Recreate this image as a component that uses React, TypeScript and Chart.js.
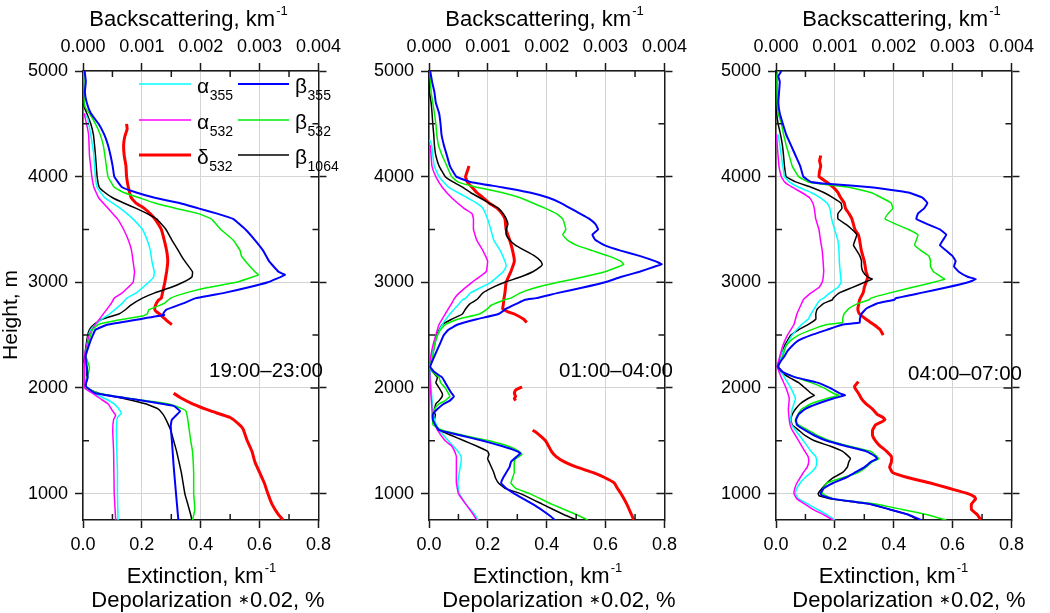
import React, { useEffect, useRef } from "react";
import { Chart, registerables } from "chart.js";

Chart.register(...registerables);

type Pt = [number, number | null];

// Units: alpha (extinction) km^-1 ; beta (backscattering) 10^-3 km^-1 ; delta (depolarization) %
// ---------------- Panel 1 : 19:00–23:00 ----------------
const P1_ALPHA355: Pt[] = [[4600,0.004],[4550,0.016],[4400,0.026],[4300,0.032],[4200,0.037],[4000,0.042],[3900,0.048],[3800,0.074],[3750,0.101],[3700,0.127],[3600,0.17],[3500,0.202],[3400,0.218],[3300,0.229],[3200,0.234],[3100,0.242],[3050,0.24],[3000,0.223],[2900,0.181],[2850,0.149],[2800,0.133],[2700,0.09],[2650,0.064],[2600,0.042],[2550,0.026],[2500,0.019],[2400,0.013],[2300,0.006],[2200,0.009],[2000,0.006],[1950,0.037],[1900,0.074],[1850,0.106],[1800,0.122],[1760,0.13],[1720,0.117],[1650,0.114],[1500,0.114],[1200,0.117],[1000,0.117],[750,0.119]];
const P1_ALPHA532: Pt[] = [[4600,0.003],[4550,0.008],[4400,0.019],[4200,0.022],[4100,0.026],[4000,0.03],[3900,0.037],[3800,0.053],[3700,0.085],[3600,0.117],[3500,0.138],[3400,0.154],[3300,0.165],[3200,0.17],[3100,0.175],[3000,0.17],[2900,0.133],[2850,0.106],[2800,0.096],[2700,0.069],[2600,0.042],[2500,0.021],[2400,0.013],[2300,0.005],[2000,0.005],[1950,0.032],[1900,0.058],[1850,0.085],[1780,0.101],[1740,0.111],[1700,0.104],[1600,0.101],[1400,0.104],[1000,0.106],[750,0.111]];
const P1_DELTA532: Pt[] = [[4500,7.4],[4450,7.5],[4380,7.1],[4300,6.9],[4200,7.0],[4100,7.3],[4000,7.4],[3900,7.7],[3800,8.2],[3750,9.0],[3700,10.4],[3650,11.4],[3600,12.2],[3500,13.3],[3400,13.8],[3300,14.2],[3200,14.4],[3100,14.2],[3000,13.9],[2900,13.5],[2850,13.3],[2830,12.8],[2780,12.3],[2740,12.2],[2720,12.5],[2700,13.0],[2660,13.8],[2620,14.6],[2600,15.1],[2300,null],[1950,15.4],[1910,16.5],[1850,18.6],[1780,21.8],[1720,25.0],[1650,26.6],[1610,27.2],[1500,27.9],[1400,28.7],[1300,29.2],[1200,30.0],[1100,30.8],[1000,31.4],[900,32.1],[800,33.2],[750,34.0]];
const P1_BETA355: Pt[] = [[5000,0.028],[4900,0.048],[4800,0.032],[4700,0.064],[4600,0.132],[4500,0.264],[4400,0.36],[4300,0.424],[4200,0.468],[4100,0.504],[4000,0.532],[3900,0.664],[3850,0.904],[3800,1.22],[3750,1.64],[3700,1.96],[3650,2.28],[3600,2.55],[3500,2.76],[3400,2.92],[3300,3.06],[3200,3.16],[3100,3.32],[3070,3.43],[3000,3.14],[2950,2.8],[2900,2.4],[2850,1.92],[2800,1.7],[2740,1.41],[2700,1.36],[2690,1.38],[2646,0.9],[2600,0.42],[2550,0.21],[2490,0.16],[2420,0.11],[2300,0.044],[2200,0.064],[2100,0.08],[2020,0.044],[1950,0.21],[1890,0.9],[1830,1.54],[1780,1.65],[1700,1.51],[1640,1.49],[1500,1.51],[1260,1.54],[1000,1.58],[750,1.62]];
const P1_BETA532: Pt[] = [[5000,0.012],[4700,0.02],[4650,0.044],[4600,0.108],[4500,0.212],[4400,0.292],[4300,0.344],[4200,0.372],[4000,0.424],[3900,0.532],[3850,0.692],[3800,0.956],[3750,1.22],[3700,1.57],[3650,1.96],[3600,2.18],[3500,2.34],[3400,2.55],[3300,2.67],[3250,2.69],[3200,2.76],[3100,2.92],[3070,2.98],[3000,2.6],[2950,2.12],[2900,1.75],[2850,1.49],[2800,1.38],[2740,1.12],[2700,1.09],[2680,1.01],[2640,0.58],[2600,0.26],[2550,0.16],[2500,0.13],[2400,0.08],[2300,0.052],[2200,0.108],[2150,0.096],[2100,0.064],[2030,0.044],[2000,0.064],[1950,0.26],[1900,0.8],[1850,1.44],[1800,1.7],[1780,1.75],[1700,1.78],[1500,1.83],[1400,1.86],[1200,1.88],[1000,1.88],[850,1.9],[750,1.86]];
const P1_BETA1064: Pt[] = [[5000,0.008],[4700,0.012],[4650,0.028],[4600,0.064],[4500,0.132],[4400,0.176],[4300,0.196],[4200,0.212],[4000,0.24],[3900,0.276],[3850,0.372],[3800,0.504],[3750,0.692],[3700,0.904],[3650,1.09],[3600,1.25],[3500,1.41],[3400,1.51],[3300,1.62],[3250,1.67],[3200,1.73],[3100,1.86],[3050,1.85],[3000,1.7],[2950,1.49],[2900,1.22],[2850,1.01],[2780,0.8],[2740,0.72],[2700,0.61],[2650,0.32],[2600,0.184],[2550,0.108],[2500,0.08],[2400,0.052],[2300,0.028],[2250,0.016],[2200,0.064],[2100,0.064],[2000,0.052],[1950,0.26],[1900,0.69],[1850,1.06],[1800,1.28],[1750,1.36],[1700,1.41],[1600,1.49],[1500,1.54],[1400,1.59],[1200,1.67],[1000,1.73],[900,1.78],[800,1.83],[750,1.85]];

// ---------------- Panel 2 : 01:00–04:00 ----------------
const P2_ALPHA355: Pt[] = [[4350,0.002],[4300,0.009],[4200,0.013],[4100,0.018],[4000,0.034],[3900,0.066],[3800,0.13],[3750,0.162],[3700,0.183],[3600,0.199],[3500,0.21],[3400,0.22],[3300,0.242],[3200,0.258],[3150,0.262],[3100,0.252],[3000,0.21],[2900,0.141],[2850,0.125],[2835,0.114],[2800,0.103],[2700,0.071],[2600,0.045],[2500,0.029],[2400,0.018],[2300,0.01],[2200,0.004],[2000,0.007],[1800,0.013],[1700,0.018],[1600,0.034],[1500,0.066],[1450,0.082],[1400,0.098],[1350,0.109],[1300,0.109],[1200,0.103],[1100,0.098],[1000,0.103],[900,0.125],[800,0.156],[750,0.167]];
const P2_ALPHA532: Pt[] = [[4300,0.004],[4200,0.007],[4100,0.01],[4000,0.023],[3900,0.045],[3800,0.077],[3700,0.119],[3650,0.146],[3600,0.151],[3500,0.151],[3400,0.162],[3300,0.183],[3200,0.199],[3100,0.194],[3000,0.146],[2900,0.103],[2850,0.087],[2800,0.077],[2700,0.055],[2600,0.034],[2500,0.023],[2400,0.013],[2300,0.006],[2200,0.002],[2000,0.005],[1800,0.01],[1700,0.013],[1600,0.029],[1500,0.055],[1450,0.077],[1400,0.087],[1350,0.093],[1300,0.093],[1200,0.093],[1100,0.093],[1000,0.1],[900,0.125],[800,0.151],[750,0.162]];
const P2_DELTA532: Pt[] = [[4100,6.8],[4050,6.5],[4000,6.2],[3950,6.5],[3900,7.3],[3850,8.1],[3800,9.2],[3750,10.2],[3700,11.6],[3650,12.4],[3600,12.9],[3500,13.1],[3400,13.7],[3300,14.2],[3200,14.5],[3100,13.9],[3000,13.1],[2900,12.9],[2835,12.7],[2780,12.6],[2750,12.5],[2720,13.4],[2700,14.5],[2650,16.1],[2620,16.6],[2300,null],[2010,15.8],[1980,14.7],[1950,14.5],[1920,14.7],[1900,14.5],[1880,14.7],[1750,null],[1600,17.6],[1580,18.2],[1500,19.8],[1400,20.8],[1350,21.6],[1300,23.0],[1250,25.1],[1200,27.8],[1150,29.9],[1100,31.5],[1050,32.0],[1000,32.6],[900,33.6],[800,34.4],[750,34.8]];
const P2_BETA355: Pt[] = [[5000,0.02],[4900,0.052],[4800,0.092],[4700,0.116],[4600,0.172],[4500,0.196],[4400,0.212],[4300,0.252],[4200,0.304],[4100,0.356],[4000,0.464],[3950,0.704],[3900,1.236],[3850,1.712],[3800,2.032],[3750,2.244],[3700,2.404],[3650,2.564],[3600,2.724],[3550,2.828],[3500,2.872],[3450,2.776],[3400,2.828],[3350,2.988],[3300,3.256],[3250,3.576],[3200,3.84],[3170,3.956],[3150,3.84],[3100,3.576],[3050,3.256],[3000,2.988],[2950,2.616],[2900,2.192],[2850,1.82],[2835,1.632],[2800,1.5],[2750,1.312],[2700,1.18],[2650,0.808],[2600,0.488],[2550,0.328],[2500,0.252],[2400,0.172],[2300,0.092],[2200,0.02],[2150,0.092],[2100,0.224],[2050,0.276],[2000,0.328],[1950,0.384],[1920,0.424],[1880,0.356],[1850,0.252],[1800,0.144],[1750,0.064],[1700,0.064],[1650,0.108],[1600,0.172],[1550,0.544],[1500,0.916],[1450,1.236],[1400,1.5],[1380,1.552],[1330,1.448],[1300,1.392],[1250,1.368],[1200,1.312],[1150,1.26],[1100,1.224],[1050,1.312],[1000,1.448],[900,1.764],[800,2.032],[750,2.14]];
const P2_BETA532: Pt[] = [[5000,0.012],[4800,0.036],[4700,0.064],[4600,0.092],[4500,0.116],[4400,0.132],[4300,0.16],[4200,0.224],[4100,0.304],[4000,0.384],[3950,0.488],[3900,0.808],[3850,1.236],[3800,1.552],[3750,1.764],[3700,1.98],[3650,2.164],[3600,2.272],[3500,2.324],[3450,2.272],[3400,2.352],[3350,2.512],[3300,2.776],[3250,3.044],[3200,3.256],[3170,3.308],[3150,3.228],[3100,2.988],[3050,2.616],[3000,2.192],[2950,1.82],[2900,1.552],[2850,1.392],[2835,1.288],[2780,1.048],[2750,0.996],[2700,0.86],[2650,0.488],[2600,0.276],[2550,0.196],[2500,0.144],[2400,0.092],[2300,0.064],[2200,0.012],[2150,0.064],[2100,0.172],[2050,0.196],[2000,0.276],[1950,0.328],[1920,0.356],[1880,0.276],[1850,0.172],[1800,0.092],[1750,0.064],[1650,0.068],[1600,0.224],[1550,0.596],[1500,1.02],[1450,1.34],[1400,1.528],[1370,1.58],[1330,1.472],[1300,1.448],[1200,1.448],[1150,1.42],[1100,1.392],[1050,1.472],[1000,1.712],[900,2.084],[800,2.512],[750,2.696]];
const P2_BETA1064: Pt[] = [[5000,0.008],[4800,0.008],[4700,0.036],[4600,0.052],[4500,0.064],[4400,0.08],[4300,0.092],[4200,0.116],[4100,0.172],[4000,0.276],[3950,0.408],[3900,0.568],[3850,0.704],[3800,0.86],[3750,1.02],[3700,1.18],[3650,1.26],[3600,1.312],[3550,1.34],[3500,1.312],[3450,1.312],[3400,1.368],[3350,1.472],[3300,1.632],[3250,1.792],[3200,1.9],[3170,1.924],[3150,1.9],[3100,1.764],[3050,1.552],[3000,1.288],[2950,1.076],[2900,0.916],[2850,0.836],[2835,0.808],[2800,0.704],[2750,0.624],[2700,0.568],[2650,0.384],[2600,0.224],[2550,0.172],[2500,0.128],[2400,0.092],[2300,0.052],[2200,0.012],[2150,0.064],[2100,0.144],[2050,0.116],[2000,0.172],[1950,0.224],[1920,0.224],[1880,0.172],[1850,0.116],[1800,0.092],[1780,0.064],[1750,0.108],[1700,0.092],[1650,0.108],[1600,0.172],[1550,0.384],[1500,0.596],[1450,0.808],[1400,0.996],[1370,1.02],[1330,0.996],[1300,1.02],[1200,1.1],[1150,1.128],[1100,1.18],[1050,1.288],[1000,1.552],[900,1.924],[800,2.296],[750,2.512]];

// ---------------- Panel 3 : 04:00–07:00 ----------------
const P3_ALPHA355: Pt[] = [[4400,0.007],[4300,0.013],[4200,0.018],[4100,0.023],[4000,0.029],[3950,0.045],[3900,0.077],[3850,0.119],[3800,0.151],[3750,0.173],[3700,0.183],[3600,0.189],[3500,0.199],[3400,0.21],[3300,0.214],[3200,0.215],[3100,0.218],[3000,0.221],[2950,0.21],[2900,0.183],[2850,0.162],[2835,0.151],[2800,0.141],[2700,0.119],[2650,0.109],[2600,0.087],[2500,0.055],[2400,0.034],[2300,0.018],[2200,0.01],[2100,0.029],[2000,0.05],[1900,0.066],[1800,0.055],[1700,0.05],[1650,0.053],[1600,0.066],[1500,0.093],[1400,0.119],[1350,0.135],[1300,0.138],[1250,0.135],[1200,0.119],[1150,0.098],[1100,0.082],[1050,0.071],[1000,0.066],[950,0.077],[900,0.109],[850,0.141],[800,0.173],[750,0.199]];
const P3_ALPHA532: Pt[] = [[4400,0.002],[4300,0.004],[4200,0.007],[4100,0.01],[4000,0.018],[3950,0.029],[3900,0.055],[3850,0.087],[3800,0.114],[3750,0.125],[3700,0.13],[3600,0.135],[3500,0.146],[3400,0.151],[3300,0.157],[3200,0.16],[3100,0.162],[3000,0.157],[2950,0.146],[2900,0.119],[2850,0.098],[2835,0.093],[2800,0.087],[2700,0.071],[2600,0.061],[2500,0.039],[2400,0.023],[2300,0.013],[2200,0.004],[2100,0.018],[2000,0.034],[1900,0.045],[1800,0.042],[1700,0.045],[1650,0.048],[1600,0.055],[1500,0.077],[1400,0.098],[1350,0.109],[1300,0.111],[1250,0.106],[1200,0.093],[1150,0.082],[1100,0.071],[1050,0.064],[1000,0.061],[950,0.071],[900,0.098],[850,0.125],[800,0.162],[750,0.194]];
const P3_DELTA532: Pt[] = [[4200,7.6],[4150,7.4],[4100,7.6],[4050,7.4],[4000,7.3],[3950,8.6],[3900,9.7],[3850,10.5],[3800,11.0],[3750,11.6],[3700,11.8],[3650,12.4],[3600,12.9],[3500,13.4],[3450,14.0],[3400,14.2],[3300,14.5],[3200,15.0],[3100,15.3],[3050,15.6],[3000,15.3],[2950,15.0],[2900,14.8],[2835,14.2],[2780,14.0],[2750,13.9],[2720,14.0],[2700,14.2],[2650,15.3],[2600,16.6],[2550,17.7],[2500,18.2],[2300,null],[2060,14.0],[2020,13.4],[2000,13.4],[1950,14.0],[1900,14.5],[1850,15.3],[1800,16.4],[1750,17.2],[1720,18.2],[1700,18.5],[1680,18.0],[1650,16.9],[1600,16.4],[1550,16.4],[1500,16.9],[1450,17.7],[1400,18.8],[1350,19.6],[1300,19.6],[1250,19.3],[1200,19.8],[1150,22.5],[1100,26.2],[1050,29.4],[1000,32.6],[970,33.7],[950,33.9],[900,33.2],[850,33.2],[800,34.2],[750,34.8]];
const P3_BETA355: Pt[] = [[5000,0.092],[4950,0.04],[4900,0.064],[4800,0.052],[4700,0.04],[4600,0.064],[4500,0.116],[4400,0.172],[4300,0.252],[4200,0.332],[4100,0.412],[4000,0.464],[3950,0.596],[3930,0.916],[3900,1.612],[3850,2.252],[3800,2.492],[3750,2.572],[3700,2.516],[3650,2.412],[3600,2.384],[3550,2.572],[3500,2.784],[3450,2.892],[3400,2.836],[3350,2.784],[3300,2.892],[3250,2.996],[3200,3.052],[3150,3.024],[3100,3.104],[3050,3.264],[3030,3.396],[3000,3.264],[2950,2.892],[2900,2.464],[2850,2.036],[2835,2.012],[2800,1.716],[2750,1.532],[2700,1.452],[2650,1.424],[2620,1.424],[2600,1.132],[2550,0.864],[2500,0.596],[2450,0.384],[2400,0.276],[2350,0.196],[2300,0.144],[2250,0.076],[2200,0.036],[2150,0.116],[2100,0.332],[2050,0.704],[2000,0.916],[1950,1.076],[1930,1.172],[1900,0.972],[1850,0.704],[1800,0.492],[1750,0.384],[1700,0.34],[1650,0.356],[1600,0.492],[1550,0.652],[1500,0.864],[1450,1.184],[1400,1.532],[1350,1.692],[1330,1.716],[1300,1.612],[1250,1.504],[1200,1.344],[1150,1.184],[1100,0.972],[1050,0.812],[1000,0.756],[980,0.784],[950,0.972],[900,1.612],[850,1.932],[800,2.252],[750,2.464]];
const P3_BETA532: Pt[] = [[5000,0.028],[4950,0.016],[4700,0.02],[4600,0.036],[4500,0.092],[4400,0.128],[4300,0.172],[4200,0.224],[4100,0.276],[4000,0.384],[3950,0.544],[3920,0.916],[3900,1.236],[3850,1.612],[3800,1.796],[3750,1.956],[3700,1.984],[3650,1.904],[3600,1.852],[3550,2.036],[3500,2.252],[3450,2.412],[3400,2.384],[3350,2.356],[3300,2.464],[3250,2.596],[3200,2.624],[3150,2.624],[3100,2.676],[3050,2.812],[3030,2.864],[3000,2.676],[2950,2.304],[2900,1.932],[2850,1.612],[2835,1.584],[2800,1.396],[2750,1.236],[2700,1.156],[2650,1.132],[2620,1.132],[2600,0.864],[2550,0.596],[2500,0.384],[2450,0.252],[2400,0.172],[2300,0.116],[2250,0.076],[2200,0.036],[2150,0.116],[2100,0.332],[2050,0.596],[2000,0.812],[1950,0.972],[1930,1.068],[1900,0.864],[1850,0.596],[1800,0.436],[1750,0.372],[1700,0.332],[1680,0.332],[1650,0.384],[1600,0.544],[1550,0.704],[1500,0.916],[1450,1.236],[1400,1.612],[1350,1.716],[1330,1.744],[1300,1.636],[1250,1.532],[1200,1.396],[1150,1.132],[1100,0.864],[1050,0.8],[1000,0.784],[950,0.972],[900,1.716],[850,2.144],[800,2.572],[750,2.892]];
const P3_BETA1064: Pt[] = [[5000,0.012],[4600,0.012],[4500,0.036],[4400,0.076],[4300,0.108],[4200,0.128],[4100,0.144],[4000,0.172],[3950,0.332],[3900,0.596],[3850,0.812],[3800,0.972],[3750,1.104],[3700,1.12],[3650,1.052],[3600,1.052],[3550,1.184],[3500,1.292],[3450,1.372],[3400,1.344],[3350,1.316],[3300,1.372],[3250,1.424],[3200,1.452],[3150,1.452],[3100,1.476],[3050,1.556],[3030,1.636],[3000,1.504],[2950,1.292],[2900,1.076],[2850,0.972],[2835,0.96],[2800,0.812],[2750,0.704],[2700,0.676],[2650,0.676],[2600,0.544],[2550,0.384],[2500,0.252],[2400,0.144],[2300,0.092],[2250,0.052],[2200,0.02],[2150,0.092],[2100,0.224],[2050,0.384],[2000,0.492],[1950,0.596],[1930,0.652],[1900,0.544],[1850,0.412],[1800,0.332],[1750,0.276],[1700,0.252],[1650,0.276],[1600,0.384],[1550,0.492],[1500,0.652],[1450,0.916],[1400,1.132],[1350,1.236],[1330,1.264],[1300,1.236],[1250,1.212],[1200,1.132],[1150,0.972],[1100,0.864],[1050,0.784],[1000,0.716],[980,0.732],[950,0.916],[900,1.612],[850,1.932],[800,2.252],[750,2.412]];

// axis ticks
const EXT_TICKS = [0, 0.1, 0.2, 0.3, 0.4, 0.5, 0.6, 0.7, 0.8];
const BSC_TICKS = [0, 0.0005, 0.001, 0.0015, 0.002, 0.0025, 0.003, 0.0035, 0.004];
const H_TICKS = [1000, 1500, 2000, 2500, 3000, 3500, 4000, 4500, 5000];
const H_RIGHT_TICKS = [1000, 2000, 3000, 4000, 5000];
const EXT_MINOR = [0.1, 0.3, 0.5, 0.7];
const BSC_MINOR = [0.0005, 0.0015, 0.0025, 0.0035];
const H_MINOR = [1500, 2500, 3500, 4500];
const H_MAJOR = [1000, 2000, 3000, 4000];
const TIME_LABELS = ["19:00\u201323:00", "01:00\u201304:00", "04:00\u201307:00"];

const PANEL_DATA: any[] = [
  { a355: P1_ALPHA355, a532: P1_ALPHA532, d532: P1_DELTA532, b355: P1_BETA355, b532: P1_BETA532, b1064: P1_BETA1064 },
  { a355: P2_ALPHA355, a532: P2_ALPHA532, d532: P2_DELTA532, b355: P2_BETA355, b532: P2_BETA532, b1064: P2_BETA1064 },
  { a355: P3_ALPHA355, a532: P3_ALPHA532, d532: P3_DELTA532, b355: P3_BETA355, b532: P3_BETA532, b1064: P3_BETA1064 },
];

// series styling: axis x = extinction / depolarization*0.02, x2 = backscattering
const SERIES: any = {
  a355: { sym: "\u03b1", sub: "355", color: "#00ffff", width: 1.5, axis: "x", scale: 1 },
  a532: { sym: "\u03b1", sub: "532", color: "#ff00ff", width: 1.5, axis: "x", scale: 1 },
  d532: { sym: "\u03b4", sub: "532", color: "#ff0000", width: 3, axis: "x", scale: 0.02 },
  b355: { sym: "\u03b2", sub: "355", color: "#0000ff", width: 2, axis: "x2", scale: 0.001 },
  b532: { sym: "\u03b2", sub: "532", color: "#00ee00", width: 1.5, axis: "x2", scale: 0.001 },
  b1064: { sym: "\u03b2", sub: "1064", color: "#000000", width: 1.5, axis: "x2", scale: 0.001 },
};
const DRAW_ORDER = ["b355", "b532", "a532", "a355", "b1064", "d532"];
const LEGEND_COLUMNS = [["a355", "a532", "d532"], ["b355", "b532", "b1064"]];

// layout (pixels)
const FONT = "'Liberation Sans', Arial, Helvetica, sans-serif";
const CANVAS_W = 346;
const CANVAS_H = 613;
const CANVAS_LEFT = [0, 346, 693];
const TOP_TITLE_X = [188, 198, 208];
const EXT_TITLE_X = [201, 201, 200];
const DEP_TITLE_X = [208, 213, 216];
const TIME_RIGHT = [323, 327, 329];
const TIME_BASE = [377, 377, 380];
const GRID = "#d4d4d4";
const AXIS = "#1a1a1a";

const near = (v: number, step: number) => Math.abs(v / step - Math.round(v / step)) < 1e-6;
const setTicks = (values: number[]) => (s: any) => {
  s.ticks = values.map((v) => ({ value: v }));
};

function drawSup(ctx: any, main: string, sup: string, cx: number, base: number, size: number, supSize: number, supRise: number) {
  ctx.font = `${size}px ${FONT}`;
  const w1 = ctx.measureText(main).width;
  ctx.font = `${supSize}px ${FONT}`;
  const w2 = ctx.measureText(sup).width;
  const x0 = cx - (w1 + w2) / 2;
  ctx.textAlign = "left";
  ctx.textBaseline = "alphabetic";
  ctx.font = `${size}px ${FONT}`;
  ctx.fillText(main, x0, base);
  ctx.font = `${supSize}px ${FONT}`;
  ctx.fillText(sup, x0 + w1 + 1, base - supRise);
}

function drawDepol(ctx: any, cx: number, base: number) {
  const a = "Depolarization ";
  const star = "\u2217";
  const b = "0.02, %";
  ctx.font = `22px ${FONT}`;
  const wa = ctx.measureText(a).width;
  const wb = ctx.measureText(b).width;
  ctx.font = `14px ${FONT}`;
  const ws = ctx.measureText(star).width;
  const x0 = cx - (wa + ws + wb) / 2;
  ctx.textAlign = "left";
  ctx.textBaseline = "alphabetic";
  ctx.font = `22px ${FONT}`;
  ctx.fillText(a, x0, base);
  ctx.fillText(b, x0 + wa + ws, base);
  ctx.font = `14px ${FONT}`;
  ctx.fillText(star, x0 + wa, base - 3);
}

function decorPlugin(i: number) {
  return {
    id: "decor" + i,
    afterDraw(chart: any) {
      const ctx = chart.ctx;
      const { left, right, top, bottom } = chart.chartArea;
      const sx = chart.scales.x;
      const sx2 = chart.scales.x2;
      const sy = chart.scales.y;
      ctx.save();
      // inward minor ticks / right-side crossing major ticks
      ctx.strokeStyle = AXIS;
      ctx.lineWidth = 1.5;
      ctx.beginPath();
      EXT_MINOR.forEach((v) => {
        const x = sx.getPixelForValue(v);
        ctx.moveTo(x, bottom);
        ctx.lineTo(x, bottom - 6);
      });
      BSC_MINOR.forEach((v) => {
        const x = sx2.getPixelForValue(v);
        ctx.moveTo(x, top);
        ctx.lineTo(x, top + 6);
      });
      H_MINOR.forEach((v) => {
        const y = sy.getPixelForValue(v);
        ctx.moveTo(left, y);
        ctx.lineTo(left + 6, y);
        ctx.moveTo(right, y);
        ctx.lineTo(right - 6, y);
      });
      H_MAJOR.forEach((v) => {
        const y = sy.getPixelForValue(v);
        ctx.moveTo(right, y);
        ctx.lineTo(right - 8, y);
      });
      ctx.stroke();

      // titles
      ctx.fillStyle = "#000";
      drawSup(ctx, "Backscattering, km", "-1", TOP_TITLE_X[i], 26, 22, 13, 11);
      drawSup(ctx, "Extinction, km", "-1", EXT_TITLE_X[i], 583, 22, 13, 11);
      drawDepol(ctx, DEP_TITLE_X[i], 607);

      ctx.font = `20.5px ${FONT}`;
      ctx.textAlign = "right";
      ctx.textBaseline = "alphabetic";
      ctx.fillText(TIME_LABELS[i], TIME_RIGHT[i], TIME_BASE[i]);

      if (i === 0) {
        ctx.save();
        ctx.translate(17, 315);
        ctx.rotate(-Math.PI / 2);
        ctx.font = `21px ${FONT}`;
        ctx.textAlign = "center";
        ctx.fillText("Height, m", 0, 0);
        ctx.restore();

        // legend
        const colLine = [[139, 191], [238, 289]];
        const colText = [197, 295];
        const rowY = [84, 120, 155];
        LEGEND_COLUMNS.forEach((col, c) => {
          col.forEach((key, r) => {
            const s = SERIES[key];
            ctx.strokeStyle = s.color;
            ctx.lineWidth = s.width;
            ctx.beginPath();
            ctx.moveTo(colLine[c][0], rowY[r]);
            ctx.lineTo(colLine[c][1], rowY[r]);
            ctx.stroke();
            ctx.fillStyle = "#000";
            ctx.textAlign = "left";
            ctx.font = `21px ${FONT}`;
            ctx.fillText(s.sym, colText[c], rowY[r] + 8.5);
            const w = ctx.measureText(s.sym).width;
            ctx.font = `14px ${FONT}`;
            ctx.fillText(s.sub, colText[c] + w + 0.5, rowY[r] + 16);
          });
        });
      }
      ctx.restore();
    },
  };
}

function buildChart(canvas: HTMLCanvasElement, i: number) {
  const pd = PANEL_DATA[i];
  const datasets = DRAW_ORDER.map((key) => {
    const s = SERIES[key];
    const pts: Pt[] = pd[key];
    return {
      label: s.sym + s.sub,
      data: pts.map(([h, v]) => ({ x: v === null ? null : v * s.scale, y: h })),
      xAxisID: s.axis,
      yAxisID: "y",
      borderColor: s.color,
      backgroundColor: s.color,
      borderWidth: s.width,
      showLine: true,
      pointRadius: 0,
      pointHoverRadius: 0,
      tension: 0.1,
      spanGaps: false,
      fill: false,
    };
  });

  const tickFont = { family: FONT, size: 18 };
  const majorColor = (ok: boolean, c: string) => (ok ? c : "rgba(0,0,0,0)");

  return new Chart(canvas, {
    type: "scatter",
    data: { datasets },
    options: {
      animation: false,
      responsive: false,
      events: [],
      layout: { padding: 0 },
      plugins: { legend: { display: false }, tooltip: { enabled: false } },
      scales: {
        x: {
          type: "linear",
          position: "bottom",
          min: 0,
          max: 0.8,
          afterBuildTicks: setTicks(EXT_TICKS),
          afterFit: (s: any) => { s.height = CANVAS_H - 520; },
          ticks: {
            autoSkip: false,
            maxRotation: 0,
            padding: 6,
            color: "#000",
            font: tickFont,
            callback: (v: any) => (near(Number(v), 0.2) ? Number(v).toFixed(1) : ""),
          },
          grid: {
            color: (c: any) => majorColor(!!c.tick && near(c.tick.value, 0.2), GRID),
            tickColor: (c: any) => majorColor(!!c.tick && near(c.tick.value, 0.2), AXIS),
            tickLength: 8,
            tickWidth: 1.5,
            lineWidth: 1,
          },
          border: { color: AXIS, width: 1.5 },
        },
        x2: {
          type: "linear",
          position: "top",
          min: 0,
          max: 0.004,
          afterBuildTicks: setTicks(BSC_TICKS),
          afterFit: (s: any) => { s.height = 71; },
          ticks: {
            autoSkip: false,
            maxRotation: 0,
            padding: 5,
            color: "#000",
            font: tickFont,
            callback: (v: any) => (near(Number(v), 0.001) ? Number(v).toFixed(3) : ""),
          },
          grid: {
            drawOnChartArea: false,
            color: "rgba(0,0,0,0)",
            tickColor: (c: any) => majorColor(!!c.tick && near(c.tick.value, 0.001), AXIS),
            tickLength: 8,
            tickWidth: 1.5,
          },
          border: { color: AXIS, width: 1.5 },
        },
        y: {
          type: "linear",
          position: "left",
          min: 750,
          max: 5000,
          afterBuildTicks: setTicks(H_TICKS),
          afterFit: (s: any) => { s.width = 83; },
          ticks: {
            autoSkip: false,
            padding: 7,
            color: "#000",
            font: tickFont,
            callback: (v: any) => (near(Number(v), 1000) ? String(Math.round(Number(v))) : ""),
          },
          grid: {
            color: (c: any) => majorColor(!!c.tick && near(c.tick.value, 1000), GRID),
            tickColor: (c: any) => majorColor(!!c.tick && near(c.tick.value, 1000), AXIS),
            tickLength: 8,
            tickWidth: 1.5,
            lineWidth: 1,
          },
          border: { color: AXIS, width: 1.5 },
        },
        y2: {
          type: "linear",
          position: "right",
          min: 750,
          max: 5000,
          afterBuildTicks: setTicks(H_RIGHT_TICKS),
          afterFit: (s: any) => { s.width = 12; },
          ticks: {
            autoSkip: false,
            padding: 0,
            font: tickFont,
            callback: () => "",
          },
          grid: {
            drawOnChartArea: false,
            color: "rgba(0,0,0,0)",
            tickColor: AXIS,
            tickLength: 8,
            tickWidth: 1.5,
          },
          border: { color: AXIS, width: 1.5 },
        },
      },
    } as any,
    plugins: [decorPlugin(i)],
  } as any);
}

function Panel({ index }: { index: number }) {
  const ref = useRef<HTMLCanvasElement>(null);
  useEffect(() => {
    if (!ref.current) return;
    const chart = buildChart(ref.current, index);
    return () => chart.destroy();
  }, [index]);
  return (
    <canvas
      ref={ref}
      width={CANVAS_W}
      height={CANVAS_H}
      style={{ position: "absolute", left: CANVAS_LEFT[index], top: 0, width: CANVAS_W, height: CANVAS_H }}
    />
  );
}

export default function App() {
  useEffect(() => {
    document.body.style.margin = "0";
    document.body.style.background = "#fff";
  }, []);
  return (
    <div style={{ position: "fixed", left: 0, top: 0, width: 1050, height: 613, background: "#fff", overflow: "hidden" }}>
      {[0, 1, 2].map((i) => (
        <Panel key={i} index={i} />
      ))}
    </div>
  );
}
